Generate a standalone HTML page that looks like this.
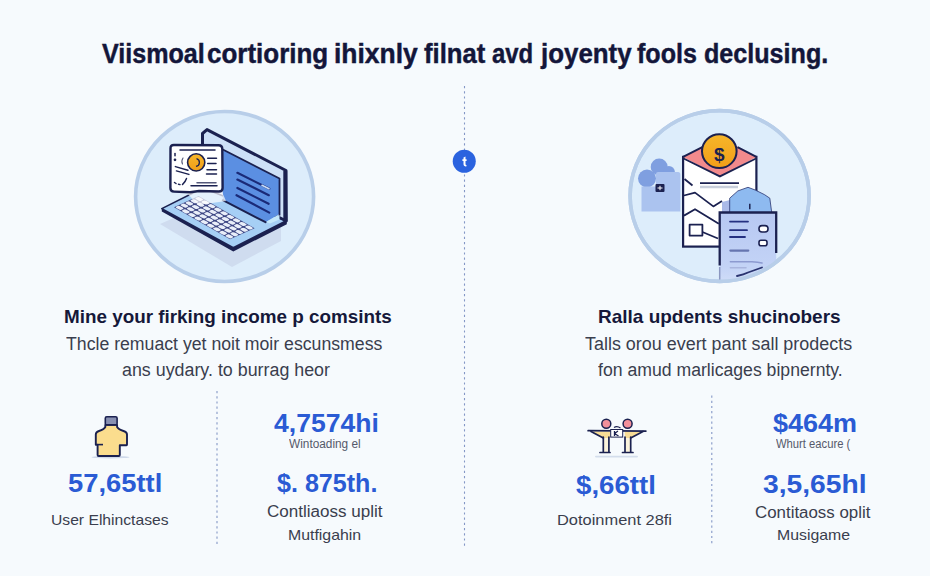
<!DOCTYPE html>
<html><head><meta charset="utf-8"><title>Infographic</title>
<style>
html,body{margin:0;padding:0;}
body{width:930px;height:576px;overflow:hidden;position:relative;background:#f6fafd;font-family:"Liberation Sans",Arial,sans-serif;}
.tx{position:absolute;white-space:nowrap;line-height:1;transform-origin:0 0;}
.tt{-webkit-text-stroke:0.45px #13163a;}
svg.art{position:absolute;left:0;top:0;}
</style></head><body>
<svg class="art" width="930" height="576" viewBox="0 0 930 576">
<defs>
<linearGradient id="clipg" x1="0" y1="0" x2="0" y2="1">
<stop offset="0" stop-color="#b7c8f2"/><stop offset="0.75" stop-color="#c3d3f6"/><stop offset="1" stop-color="#d2def8"/>
</linearGradient>
<linearGradient id="coing" x1="0" y1="0" x2="0" y2="1">
<stop offset="0" stop-color="#f6b62a"/><stop offset="1" stop-color="#f29e18"/>
</linearGradient>
<clipPath id="rc"><ellipse cx="719.6" cy="196" rx="88" ry="84"/></clipPath>
</defs>
<!-- dotted lines -->
<line x1="464.5" y1="86" x2="464.5" y2="547" stroke="#8497c6" stroke-width="1.1" stroke-dasharray="2.2 3"/>
<line x1="217" y1="391" x2="217" y2="546" stroke="#8497c6" stroke-width="1.1" stroke-dasharray="2.2 3"/>
<line x1="711.8" y1="395.5" x2="711.8" y2="546" stroke="#8497c6" stroke-width="1.1" stroke-dasharray="2.2 3"/>
<!-- blue dot -->
<circle cx="464.25" cy="161.25" r="11.5" fill="#2b63df"/>
<path d="M463.5 157.6 L465.5 156.6 L465.5 159.3 L466.6 159.3 L466.6 160.9 L465.5 160.9 L465.5 164.3 Q465.5 165 466.4 164.9 L466.6 166.3 Q463.5 166.9 463.5 164.6 L463.5 160.9 L462.4 160.9 L462.4 159.3 L463.5 159.3 Z" fill="#ffffff"/>
<!-- circles -->
<ellipse cx="224.6" cy="196.5" rx="89" ry="85" fill="#ddedfb" stroke="#b8cee9" stroke-width="3.6"/>
<ellipse cx="719.6" cy="196" rx="89.5" ry="85.4" fill="#ddedfb" stroke="#b8cee9" stroke-width="3.6"/>

<!-- ===== laptop ===== -->
<polygon points="160,224 232,267 281,241 281,228 215,200" fill="#cfdcef"/>
<polygon points="161.8,208.6 233.3,247.8 286.8,220.6 286.8,224.2 233.3,251.4 161.8,211.6" fill="#1b2150"/>
<polygon points="161.8,208.6 203,188 286.3,220.8 233.3,247.8" fill="#a6cff5" stroke="#1b2150" stroke-width="1.6" stroke-linejoin="round"/>
<g transform="matrix(56,32.1,-24.6,11.1,198.6,196.1)">
<rect x="0" y="0" width="1" height="1" fill="#3d4684"/>
<g fill="#e9eef9">
<rect x="0.008" y="0.020" width="0.095" height="0.16" rx="0.03" ry="0.05"/>
<rect x="0.119" y="0.020" width="0.095" height="0.16" rx="0.03" ry="0.05"/>
<rect x="0.230" y="0.020" width="0.095" height="0.16" rx="0.03" ry="0.05"/>
<rect x="0.341" y="0.020" width="0.095" height="0.16" rx="0.03" ry="0.05"/>
<rect x="0.452" y="0.020" width="0.095" height="0.16" rx="0.03" ry="0.05"/>
<rect x="0.564" y="0.020" width="0.095" height="0.16" rx="0.03" ry="0.05"/>
<rect x="0.675" y="0.020" width="0.095" height="0.16" rx="0.03" ry="0.05"/>
<rect x="0.786" y="0.020" width="0.095" height="0.16" rx="0.03" ry="0.05"/>
<rect x="0.897" y="0.020" width="0.095" height="0.16" rx="0.03" ry="0.05"/>
<rect x="0.008" y="0.220" width="0.095" height="0.16" rx="0.03" ry="0.05"/>
<rect x="0.119" y="0.220" width="0.095" height="0.16" rx="0.03" ry="0.05"/>
<rect x="0.230" y="0.220" width="0.095" height="0.16" rx="0.03" ry="0.05"/>
<rect x="0.341" y="0.220" width="0.095" height="0.16" rx="0.03" ry="0.05"/>
<rect x="0.452" y="0.220" width="0.095" height="0.16" rx="0.03" ry="0.05"/>
<rect x="0.564" y="0.220" width="0.095" height="0.16" rx="0.03" ry="0.05"/>
<rect x="0.675" y="0.220" width="0.095" height="0.16" rx="0.03" ry="0.05"/>
<rect x="0.786" y="0.220" width="0.095" height="0.16" rx="0.03" ry="0.05"/>
<rect x="0.897" y="0.220" width="0.095" height="0.16" rx="0.03" ry="0.05"/>
<rect x="0.008" y="0.420" width="0.095" height="0.16" rx="0.03" ry="0.05"/>
<rect x="0.119" y="0.420" width="0.095" height="0.16" rx="0.03" ry="0.05"/>
<rect x="0.230" y="0.420" width="0.095" height="0.16" rx="0.03" ry="0.05"/>
<rect x="0.341" y="0.420" width="0.095" height="0.16" rx="0.03" ry="0.05"/>
<rect x="0.452" y="0.420" width="0.095" height="0.16" rx="0.03" ry="0.05"/>
<rect x="0.564" y="0.420" width="0.095" height="0.16" rx="0.03" ry="0.05"/>
<rect x="0.675" y="0.420" width="0.095" height="0.16" rx="0.03" ry="0.05"/>
<rect x="0.786" y="0.420" width="0.095" height="0.16" rx="0.03" ry="0.05"/>
<rect x="0.897" y="0.420" width="0.095" height="0.16" rx="0.03" ry="0.05"/>
<rect x="0.008" y="0.620" width="0.095" height="0.16" rx="0.03" ry="0.05"/>
<rect x="0.119" y="0.620" width="0.095" height="0.16" rx="0.03" ry="0.05"/>
<rect x="0.230" y="0.620" width="0.095" height="0.16" rx="0.03" ry="0.05"/>
<rect x="0.341" y="0.620" width="0.095" height="0.16" rx="0.03" ry="0.05"/>
<rect x="0.452" y="0.620" width="0.095" height="0.16" rx="0.03" ry="0.05"/>
<rect x="0.564" y="0.620" width="0.095" height="0.16" rx="0.03" ry="0.05"/>
<rect x="0.675" y="0.620" width="0.095" height="0.16" rx="0.03" ry="0.05"/>
<rect x="0.786" y="0.620" width="0.095" height="0.16" rx="0.03" ry="0.05"/>
<rect x="0.897" y="0.620" width="0.095" height="0.16" rx="0.03" ry="0.05"/>
<rect x="0.008" y="0.820" width="0.095" height="0.16" rx="0.03" ry="0.05"/>
<rect x="0.119" y="0.820" width="0.095" height="0.16" rx="0.03" ry="0.05"/>
<rect x="0.230" y="0.820" width="0.095" height="0.16" rx="0.03" ry="0.05"/>
<rect x="0.341" y="0.820" width="0.095" height="0.16" rx="0.03" ry="0.05"/>
<rect x="0.452" y="0.820" width="0.095" height="0.16" rx="0.03" ry="0.05"/>
<rect x="0.564" y="0.820" width="0.095" height="0.16" rx="0.03" ry="0.05"/>
<rect x="0.675" y="0.820" width="0.095" height="0.16" rx="0.03" ry="0.05"/>
<rect x="0.786" y="0.820" width="0.095" height="0.16" rx="0.03" ry="0.05"/>
<rect x="0.897" y="0.820" width="0.095" height="0.16" rx="0.03" ry="0.05"/>
</g></g>
<!-- screen -->
<polygon points="202.5,146 202.5,133.5 207,129.6 286,170.5 286.3,221 202.5,179" fill="#cde0f7" stroke="#1b2150" stroke-width="3" stroke-linejoin="round"/>
<polygon points="222.8,149.5 279.5,178.5 279.5,214 266,222 222.8,200.2" fill="#5b8fe2"/>
<polygon points="266,222 279.5,214 279.5,219.5 270,223.5" fill="#c4e8fb"/>
<path d="M222.8 149.5 L279.5 178.5 L279.5 215.5" stroke="#1b2150" stroke-width="1.8" fill="none" stroke-linejoin="round"/>
<path d="M222.8 200.2 L265.5 222.2" stroke="#1b2150" stroke-width="2" fill="none" stroke-linecap="round"/>
<line x1="285.2" y1="171" x2="285.2" y2="221.5" stroke="#1b2150" stroke-width="3.8"/>
<g stroke="#1a2a78" stroke-width="2.2" stroke-linecap="round">
<line x1="237.4" y1="172.8" x2="269.3" y2="188.8"/>
<line x1="237.4" y1="179.6" x2="268.8" y2="195.2"/>
<line x1="237.4" y1="187.9" x2="268.6" y2="203.8"/>
<line x1="236.5" y1="195.2" x2="269.3" y2="212.6"/>
</g>
<line x1="262" y1="185.3" x2="269" y2="188.8" stroke="#c8dcf6" stroke-width="1.6" stroke-linecap="round"/>
<!-- card trail -->
<polygon points="186,192 222,192 226,201 198,205" fill="#ffffff" opacity="0.7"/>
<!-- card -->
<path d="M170.5 148.5 Q170.3 145 173.8 145 L218.5 145.3 Q222.3 145.4 222.3 149 L222.6 188 Q222.6 191.5 219 191.5 L199 191 L190 192.3 L174 191.6 Q170.4 191.5 170.4 188 Z" fill="#ffffff" stroke="#1b2150" stroke-width="2.4"/>
<g stroke="#1b2150" stroke-width="1.5" stroke-linecap="round" fill="none">
<line x1="180" y1="149.9" x2="215" y2="149.9"/>
<line x1="207.7" y1="158.2" x2="216.5" y2="158.2"/>
<line x1="207.7" y1="163.4" x2="216" y2="163.4"/>
<line x1="207" y1="169.7" x2="216.5" y2="169.7"/>
<line x1="206.5" y1="173.9" x2="216.5" y2="173.9"/>
<line x1="175.4" y1="166.6" x2="187.9" y2="170.2"/>
<line x1="176.4" y1="170.9" x2="188.9" y2="174.4"/>
<line x1="191" y1="185.8" x2="217" y2="185.8"/>
<line x1="197" y1="182.7" x2="216" y2="182.7" stroke="#55597a"/>
<line x1="175" y1="153.5" x2="175" y2="155.8"/>
<circle cx="175" cy="159.8" r="0.6"/>
<path d="M174.5 182.5 L176 183.5 M178.5 184.2 L180 184.6 M182.5 184.4 L185 181.5 L186.5 178.5"/>
<path d="M183 158 Q181 161 182.5 164" stroke="#55597a" stroke-width="1.1"/>
</g>
<circle cx="196.2" cy="162.4" r="8.6" fill="url(#coing)" stroke="#1b2150" stroke-width="1.6"/>
<path d="M196.5 158.6 A4 4 0 0 1 196 166.4" fill="none" stroke="#1b2150" stroke-width="1.3"/>

<g clip-path="url(#rc)">
<!-- ===== right illustration ===== -->
<circle cx="659.2" cy="167" r="8.5" fill="#7f9fe0"/>
<circle cx="647" cy="178.5" r="9" fill="#7f9fe0"/>
<circle cx="668.9" cy="172" r="6" fill="#7f9fe0"/>
<path d="M641.5 186.5 L656 186.5 L656 174 Q656 171.9 658 171.9 L678 171.9 Q680.4 171.9 680.4 174.5 L680.4 211.4 L641.5 211.4 Z" fill="#abc3ef"/>
<rect x="655.5" y="184" width="9" height="8" rx="1" fill="#1b2150"/>
<path d="M657.5 188 L662.5 188 M660 185.8 L660 190.2" stroke="#ffffff" stroke-width="1"/>
<!-- envelope -->
<rect x="683.1" y="156.9" width="73.3" height="89.7" fill="#ffffff" stroke="#1b2150" stroke-width="2.2"/>
<polygon points="683.1,156.9 719.8,137 756.4,156.9 719.9,176.4" fill="#f28a8c"/>
<path d="M683.1 156.9 L702.3 147.1 M737.5 147.1 L756.4 156.9" stroke="#1b2150" stroke-width="2" fill="none"/>
<path d="M683.6 158.5 L719.9 176.4 L756 158.5" stroke="#1b2150" stroke-width="1.8" fill="none"/>
<ellipse cx="719.3" cy="151.2" rx="17.3" ry="16.9" fill="url(#coing)" stroke="#1b2150" stroke-width="2"/>
<g stroke="#1b2150" stroke-width="1.8" fill="none" stroke-linejoin="round">
<path d="M684 195.5 L695 192.6 L713.3 206.4 L722 201"/>
<path d="M684 215.6 L695 209.2 L718.8 223.8"/>
<path d="M684.5 179 L692.5 185.5"/>
<rect x="689.6" y="224.7" width="12.8" height="10.9"/>
<path d="M702.4 232 L718 238.5"/>
<path d="M700 183.2 L739 183.2"/>
</g>
<path d="M700 187 L738 187" stroke="#c9cfdc" stroke-width="2.4"/>
<!-- clipboard -->
<polygon points="722,202 730,200 730,212.5 722,212.5" fill="#aab9e8"/>
<polygon points="729.7,212.5 729.7,198.2 737.9,190.9 748,187.3 755.2,190 764.4,194.6 769.8,198.2 771.7,212.5" fill="#8ebaf0" stroke="#2a3470" stroke-width="0.8"/>
<path d="M749.8 203.7 L749.8 209.2" stroke="#1b2150" stroke-width="1.5"/>
<rect x="719.7" y="212.5" width="56.5" height="72" fill="url(#clipg)"/>
<path d="M719.7 265.5 L719.7 212.5 L776.2 212.5 L776.2 253" stroke="#1b2150" stroke-width="2.3" fill="none"/>
<path d="M719.7 267 L719.7 280" stroke="#8b97c0" stroke-width="1.5"/>
<g stroke="#253080" stroke-width="1.8" stroke-linecap="round">
<line x1="730" y1="221.6" x2="748" y2="221.6"/>
<line x1="730" y1="230.2" x2="747" y2="230.2"/>
<line x1="730" y1="237" x2="745" y2="237"/>
<line x1="730.4" y1="250.6" x2="748.3" y2="250.6" stroke="#6675b0" stroke-width="2.2"/>
<path d="M730.4 261.8 L752 261.8 Q758 262 762 263" stroke="#8c9ad0" stroke-width="1.6" fill="none"/>
<line x1="730.4" y1="267.8" x2="746" y2="267.8" stroke="#a9b5de" stroke-width="1.5"/>
<path d="M737 276 Q744 274.5 748 272.5 L762 267.5" stroke="#2a3470" stroke-width="1.8" fill="none"/>
</g>
<rect x="759" y="225.6" width="9" height="6.4" rx="3" fill="#ffffff" stroke="#1b2150" stroke-width="1.6"/>
<rect x="759" y="240.2" width="8" height="5.5" rx="2" fill="#ffffff" stroke="#1b2150" stroke-width="1.6"/>

</g>
<ellipse cx="719.6" cy="196" rx="89.5" ry="85.4" fill="none" stroke="#b8cee9" stroke-width="3.6"/>
<!-- ===== bottle icon ===== -->
<ellipse cx="110.5" cy="457.2" rx="19" ry="1.3" fill="#cfd9ea"/>
<path d="M105.3 424.9 L105.3 427 Q104 429.5 99 431 Q95.8 432 95.8 434.5 L95.8 444.8 L97.6 444.8 L97.6 455 Q97.6 456 98.6 456 L118.8 456 Q119.8 456 119.8 455 L119.8 445.2 L126.5 445.2 Q127 445.2 127 444.5 L127 434.5 Q127 432 123.5 431 Q118.5 429.5 117.1 427 L117.1 424.9 Z" fill="#fbdd8e" stroke="#1b2150" stroke-width="1.9" stroke-linejoin="round"/>
<rect x="105.3" y="416.8" width="11.8" height="8.1" rx="1.5" fill="#8890b2" stroke="#1b2150" stroke-width="1.6"/>
<line x1="97.6" y1="444.6" x2="103" y2="444.6" stroke="#1b2150" stroke-width="1.6"/>

<!-- ===== handshake icon ===== -->
<rect x="595" y="455.8" width="43" height="1.6" rx="0.8" fill="#d3ddec"/>
<polygon points="590.7,431.5 610.7,431.5 609.8,438 602.9,438" fill="#f7dc96"/>
<polygon points="624.6,431.5 642.8,431.5 631.5,438 625,438" fill="#f7dc96"/>
<rect x="603.5" y="438" width="5.4" height="14" fill="#fbf3dc"/>
<rect x="625.2" y="438" width="5.4" height="14" fill="#fbf3dc"/>
<g stroke="#1b2150" stroke-width="1.7" stroke-linecap="round">
<line x1="588.1" y1="430.7" x2="645.9" y2="431.1"/>
<line x1="591" y1="431.5" x2="603.3" y2="438"/>
<line x1="643" y1="431.5" x2="630.7" y2="438"/>
<line x1="603.3" y1="437" x2="603.3" y2="452"/>
<line x1="608.9" y1="437" x2="608.9" y2="452"/>
<line x1="625" y1="437" x2="625" y2="452"/>
<line x1="630.7" y1="437" x2="630.7" y2="452"/>
<line x1="600" y1="452.5" x2="610" y2="452.5"/>
<line x1="622.5" y1="452.5" x2="633" y2="452.5"/>
</g>
<rect x="610.7" y="429.5" width="12" height="7.6" fill="#ffffff" stroke="#1b2150" stroke-width="1"/>
<path d="M614.5 431 L614.5 436 M614.5 433.5 L618 431 M614.5 433.5 L618.5 436" stroke="#1b2150" stroke-width="1.3" fill="none"/>
<path d="M614 427.5 Q617 425.5 620.5 428" stroke="#1b2150" stroke-width="1.3" fill="none"/>
<circle cx="606.3" cy="423.7" r="4.5" fill="#f2909b" stroke="#1b2150" stroke-width="1.5"/>
<circle cx="627.6" cy="423.7" r="4.5" fill="#f2909b" stroke="#1b2150" stroke-width="1.5"/>
<text x="719.4" y="160.8" text-anchor="middle" font-family="Liberation Sans, Arial, sans-serif" font-weight="700" font-size="19" fill="#1b2150">$</text>
</svg>

<div id="t0" class="tx tt" style="left:101.94px;top:39.80px;font-size:28px;font-weight:700;color:#13163a;transform:scaleX(0.8965)">Viismoal</div>
<div id="t1" class="tx tt" style="left:206.64px;top:39.80px;font-size:28px;font-weight:700;color:#13163a;transform:scaleX(0.9279)">cortioring</div>
<div id="t2" class="tx tt" style="left:334.05px;top:39.80px;font-size:28px;font-weight:700;color:#13163a;transform:scaleX(0.9444)">ihixnly</div>
<div id="t3" class="tx tt" style="left:423.78px;top:39.80px;font-size:28px;font-weight:700;color:#13163a;transform:scaleX(0.9164)">filnat</div>
<div id="t4" class="tx tt" style="left:492.07px;top:39.80px;font-size:28px;font-weight:700;color:#13163a;transform:scaleX(0.8534)">avd</div>
<div id="t5" class="tx tt" style="left:540.91px;top:39.80px;font-size:28px;font-weight:700;color:#13163a;transform:scaleX(0.9243)">joyenty</div>
<div id="t6" class="tx tt" style="left:637.00px;top:39.80px;font-size:28px;font-weight:700;color:#13163a;transform:scaleX(0.8955)">fools</div>
<div id="t7" class="tx tt" style="left:703.83px;top:39.80px;font-size:28px;font-weight:700;color:#13163a;transform:scaleX(0.8971)">declusing.</div>
<div id="h1" class="tx" style="left:63.61px;top:306.52px;font-size:19px;font-weight:700;color:#15183a;transform:scaleX(0.9921)">Mine your firking income p comsints</div>
<div id="b1" class="tx" style="left:66.09px;top:335.36px;font-size:18px;font-weight:400;color:#3a3e4e;transform:scaleX(0.9821)">Thcle remuact yet noit moir escunsmess</div>
<div id="b2" class="tx" style="left:121.52px;top:360.76px;font-size:18px;font-weight:400;color:#3a3e4e;transform:scaleX(0.9914)">ans uydary. to burrag heor</div>
<div id="h2" class="tx" style="left:597.79px;top:306.52px;font-size:19px;font-weight:700;color:#15183a;transform:scaleX(0.9991)">Ralla updents shucinobers</div>
<div id="b3" class="tx" style="left:585.40px;top:335.36px;font-size:18px;font-weight:400;color:#3a3e4e;transform:scaleX(0.9962)">Talls orou evert pant sall prodects</div>
<div id="b4" class="tx" style="left:597.50px;top:360.76px;font-size:18px;font-weight:400;color:#3a3e4e;transform:scaleX(0.9799)">fon amud marlicages bipnernty.</div>
<div id="n1" class="tx" style="left:67.95px;top:470.49px;font-size:26px;font-weight:700;color:#2a5bd4;transform:scaleX(1.0529)">57,65ttl</div>
<div id="l1" class="tx" style="left:50.89px;top:511.50px;font-size:15px;font-weight:400;color:#3a3e4e;transform:scaleX(1.0446)">User Elhinctases</div>
<div id="n2" class="tx" style="left:274.00px;top:411.24px;font-size:25px;font-weight:700;color:#2a5bd4;transform:scaleX(1.0621)">4,7574hi</div>
<div id="s2" class="tx" style="left:289.00px;top:438.34px;font-size:12px;font-weight:400;color:#55596a;transform:scaleX(0.9861)">Wintoading el</div>
<div id="n3" class="tx" style="left:276.89px;top:471.14px;font-size:25px;font-weight:700;color:#2a5bd4;transform:scaleX(1.0032)">$. 875th.</div>
<div id="l3" class="tx" style="left:266.94px;top:504.06px;font-size:16px;font-weight:400;color:#3a3e4e;transform:scaleX(1.0648)">Contliaoss uplit</div>
<div id="l3b" class="tx" style="left:287.90px;top:527.93px;font-size:14.5px;font-weight:400;color:#3a3e4e;transform:scaleX(1.0940)">Mutfigahin</div>
<div id="n4" class="tx" style="left:576.47px;top:472.09px;font-size:26px;font-weight:700;color:#2a5bd4;transform:scaleX(1.0633)">$,66ttl</div>
<div id="l4" class="tx" style="left:556.91px;top:511.50px;font-size:15px;font-weight:400;color:#3a3e4e;transform:scaleX(1.0945)">Dotoinment 28fi</div>
<div id="n5" class="tx" style="left:772.58px;top:411.34px;font-size:25px;font-weight:700;color:#2a5bd4;transform:scaleX(1.0805)">$464m</div>
<div id="s5" class="tx" style="left:776.00px;top:437.84px;font-size:12px;font-weight:400;color:#55596a;transform:scaleX(0.9367)">Whurt eacure (</div>
<div id="n6" class="tx" style="left:762.91px;top:470.99px;font-size:26px;font-weight:700;color:#2a5bd4;transform:scaleX(1.0860)">3,5,65hl</div>
<div id="l6" class="tx" style="left:754.94px;top:504.66px;font-size:16px;font-weight:400;color:#3a3e4e;transform:scaleX(1.0550)">Contitaoss oplit</div>
<div id="l6b" class="tx" style="left:776.90px;top:527.93px;font-size:14.5px;font-weight:400;color:#3a3e4e;transform:scaleX(1.0925)">Musigame</div>
</body></html>
